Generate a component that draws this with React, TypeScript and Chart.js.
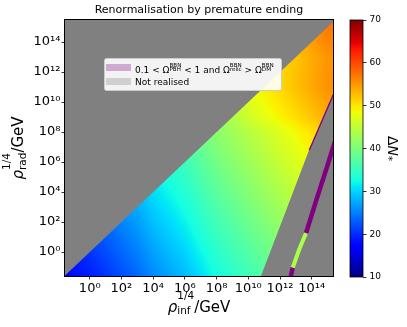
import React, { useEffect, useRef } from 'react';
import { Chart, registerables } from 'chart.js';

Chart.register(...registerables);

const FONT = 'DejaVu Sans';

// ---------- data ----------
const TITLE = 'Renormalisation by premature ending';
const X_LIMIT_EXP = [-1.56, 15.34]; // log10(rho_inf^{1/4}/GeV)
const Y_LIMIT_EXP = [-1.6, 15.47]; // log10(rho_rad^{1/4}/GeV)
const X_TICK_EXP = [0, 2, 4, 6, 8, 10, 12, 14];
const Y_TICK_EXP = [0, 2, 4, 6, 8, 10, 12, 14];
const CB_LIMITS = [10, 70];
const CB_TICKS = [10, 20, 30, 40, 50, 60, 70];

// grid of Delta N_* read at decade points (log10 GeV)
const infExp = [-2, -1, 0, 1, 2, 3, 4, 5, 6, 7, 8, 9, 10, 11, 12, 13, 14, 15];
const radExp = [15, 14, 13, 12, 11, 10, 9, 8, 7, 6, 5, 4, 3, 2, 1, 0, -1, -2];
const _ = null;
const deltaN = [
  [_, _, _, _, _, _, _, _, _, _, _, _, _, _, _, _, 55.5, 57.0],
  [_, _, _, _, _, _, _, _, _, _, _, _, _, _, _, 53.1, 54.6, 56.1],
  [_, _, _, _, _, _, _, _, _, _, _, _, _, _, 50.7, 52.2, 53.7, 55.2],
  [_, _, _, _, _, _, _, _, _, _, _, _, _, 49.3, 50.8, 52.3, 53.8, 55.3],
  [_, _, _, _, _, _, _, _, _, _, _, _, 47.9, 49.4, 50.9, 52.4, 53.9, 55.4],
  [_, _, _, _, _, _, _, _, _, _, _, 44.5, 47.0, 48.5, 50.0, 51.5, 53.0, 54.5],
  [_, _, _, _, _, _, _, _, _, _, 42.1, 43.6, 46.1, 47.6, 49.1, 50.6, 52.1, 53.6],
  [_, _, _, _, _, _, _, _, _, 39.2, 41.2, 42.7, 44.2, 45.7, 47.2, 48.7, 50.2, 51.7],
  [_, _, _, _, _, _, _, _, 36.3, 38.3, 40.3, 41.8, 43.3, 44.8, 46.3, 47.8, 49.3, _],
  [_, _, _, _, _, _, _, 33.9, 35.4, 37.4, 39.4, 40.9, 42.4, 43.9, 45.4, 46.9, 48.4, _],
  [_, _, _, _, _, _, 31.5, 33.0, 34.5, 36.5, 38.5, 40.0, 41.5, 43.0, 44.5, 46.0, _, _],
  [_, _, _, _, _, 28.6, 30.6, 32.1, 33.6, 35.6, 37.6, 39.1, 40.6, 42.1, 43.6, 45.1, _, _],
  [_, _, _, _, 26.2, 27.7, 29.7, 31.2, 32.7, 34.7, 36.7, 38.2, 39.7, 41.2, 42.7, 44.2, _, _],
  [_, _, _, 23.8, 25.3, 26.8, 28.8, 30.3, 31.8, 33.8, 35.8, 37.3, 38.8, 40.3, 41.8, _, _, _],
  [_, _, 21.4, 22.9, 24.4, 25.9, 27.9, 29.4, 30.9, 32.9, 34.9, 36.4, 37.9, 39.4, 40.9, _, _, _],
  [_, 19.5, 20.5, 22.0, 23.5, 25.0, 27.0, 28.5, 30.0, 32.0, 34.0, 35.5, 37.0, 38.5, 40.0, _, _, _],
  [17.1, 18.6, 19.6, 21.1, 22.6, 24.1, 26.1, 27.6, 29.1, 31.1, 33.1, 34.6, 36.1, 37.6, _, _, _, _],
  [16.2, 17.7, 18.7, 20.2, 21.7, 23.2, 25.2, 26.7, 28.2, 30.2, 32.2, 33.7, 35.2, 36.7, _, _, _, _],
];

// "Not realised" regions (log10 GeV)
const aboveDiagInfExp = [-5, 20, -5];
const aboveDiagRadExp = [-5, 20, 20];
const lateEndInfExp = [16, 10.29, 12.32, 13.83, 15.34, 16];
const lateEndRadExp = [-3, -3, 2.6, 6.8, 10.47, 12];

// 0.1 < Omega_PBH < 1 and Omega_relic > Omega_DM
const pbhInfExp = [13.64, 14.3, 15.0, 15.5];
const pbhRadExp = [1.27, 3.5, 5.8, 7.5];
const pbhTipInfExp = [12.6, 12.8];
const pbhTipRadExp = [-2.0, -1.05];
const pbhEdgeInfExp = [13.85, 15.36];
const pbhEdgeRadExp = [6.8, 10.5];
// realised sliver inside the band
const sliverInfExp = [12.8, 13.2, 13.64];
const sliverRadExp = [-1.05, 0.15, 1.27];
const SLIVER_DELTA_N = 43.4;

const PBH_COLOR = '#800080';
const NOT_REALISED_COLOR = '#808080';

// ---------- helpers ----------
const JET: Record<string, number[][]> = {
  r: [[0, 0], [0.35, 0], [0.66, 1], [0.89, 1], [1, 0.5]],
  g: [[0, 0], [0.125, 0], [0.375, 1], [0.64, 1], [0.91, 0], [1, 0]],
  b: [[0, 0.5], [0.11, 1], [0.34, 1], [0.65, 0], [1, 0]],
};
function seg(p: number[][], t: number) {
  for (let i = 1; i < p.length; i++) {
    if (t <= p[i][0]) {
      const [t0, v0] = p[i - 1];
      const [t1, v1] = p[i];
      return v0 + ((v1 - v0) * (t - t0)) / (t1 - t0);
    }
  }
  return p[p.length - 1][1];
}
function jetRGB(v: number) {
  const t = Math.min(1, Math.max(0, (v - CB_LIMITS[0]) / (CB_LIMITS[1] - CB_LIMITS[0])));
  return ['r', 'g', 'b'].map((k) => Math.round(255 * seg(JET[k], t)));
}
function jet(v: number) {
  const [r, g, b] = jetRGB(v);
  return `rgb(${r},${g},${b})`;
}
const SUP: Record<string, string> = { '0': '⁰', '1': '¹', '2': '²', '3': '³', '4': '⁴', '5': '⁵', '6': '⁶', '7': '⁷', '8': '⁸', '9': '⁹', '-': '⁻' };
const tenPow = (v: number) =>
  '10' + String(Math.round(Math.log10(v))).split('').map((c) => SUP[c]).join('');
const pts = (us: number[], vs: number[]) => us.map((u, k) => ({ x: 10 ** u, y: 10 ** vs[k] }));

// shade between the read grid values (like imshow with bilinear shading)
function shade(u: number, v: number): number | null {
  const fi = Math.min(infExp.length - 1, Math.max(0, u - infExp[0]));
  const fj = Math.min(radExp.length - 1, Math.max(0, radExp[0] - v));
  const i0 = Math.min(infExp.length - 2, Math.floor(fi));
  const j0 = Math.min(radExp.length - 2, Math.floor(fj));
  const di = fi - i0;
  const dj = fj - j0;
  let s = 0;
  let w = 0;
  const add = (j: number, i: number, wt: number) => {
    const val = deltaN[j][i];
    if (val == null || wt <= 0) return;
    s += val * wt;
    w += wt;
  };
  add(j0, i0, (1 - di) * (1 - dj));
  add(j0, i0 + 1, di * (1 - dj));
  add(j0 + 1, i0, (1 - di) * dj);
  add(j0 + 1, i0 + 1, di * dj);
  if (w > 0) return s / w;
  const ni = Math.round(fi);
  const nj = Math.round(fj);
  return deltaN[nj][ni];
}

type Piece =
  | { t: string; font: string }
  | { sup: string; sub: string; font: string; rise: number; drop: number };
function pieceW(ctx: CanvasRenderingContext2D, p: Piece) {
  ctx.font = p.font;
  if ('t' in p) return ctx.measureText(p.t).width;
  return Math.max(ctx.measureText(p.sup).width, ctx.measureText(p.sub).width);
}
function piecesW(ctx: CanvasRenderingContext2D, ps: Piece[]) {
  return ps.reduce((s, p) => s + pieceW(ctx, p), 0);
}
function drawPieces(ctx: CanvasRenderingContext2D, ps: Piece[], x: number, y: number) {
  let cx = x;
  ctx.textAlign = 'left';
  ctx.textBaseline = 'alphabetic';
  for (const p of ps) {
    const w = pieceW(ctx, p);
    ctx.font = p.font;
    if ('t' in p) ctx.fillText(p.t, cx, y);
    else {
      if (p.sup) ctx.fillText(p.sup, cx, y - p.rise);
      if (p.sub) ctx.fillText(p.sub, cx, y + p.drop);
    }
    cx += w;
  }
}

const F = (size: number, italic = false) => `${italic ? 'italic ' : ''}${size}px ${FONT}`;
const axisPieces = (sub: string): Piece[] => [
  { t: 'ρ', font: F(15, true) },
  { sup: '1/4', sub, font: F(10.5), rise: 13, drop: 2.5 },
  { t: '/GeV', font: F(15) },
];

// ---------- plugins ----------
const heatPlugin = {
  id: 'heat',
  beforeDatasetsDraw(chart: any) {
    const { ctx, chartArea: a, scales } = chart;
    const xs = scales.x;
    const ys = scales.y;
    const L = Math.round(a.left);
    const T = Math.round(a.top);
    const W = Math.round(a.right) - L;
    const H = Math.round(a.bottom) - T;
    const img = ctx.createImageData(W, H);
    const us: number[] = [];
    const vs: number[] = [];
    for (let i = 0; i < W; i++) us.push(Math.log10(xs.getValueForPixel(L + i + 0.5)));
    for (let j = 0; j < H; j++) vs.push(Math.log10(ys.getValueForPixel(T + j + 0.5)));
    for (let j = 0; j < H; j++) {
      for (let i = 0; i < W; i++) {
        const val = shade(us[i], vs[j]);
        const k = (j * W + i) * 4;
        if (val == null) {
          img.data[k] = 128; img.data[k + 1] = 128; img.data[k + 2] = 128; img.data[k + 3] = 255;
          continue;
        }
        const [r, g, b] = jetRGB(val);
        img.data[k] = r; img.data[k + 1] = g; img.data[k + 2] = b; img.data[k + 3] = 255;
      }
    }
    ctx.putImageData(img, L, T);
  },
};

const decorPlugin = {
  id: 'decor',
  afterDatasetsDraw(chart: any) {
    const { ctx, chartArea: a } = chart;
    ctx.save();
    // frame
    ctx.strokeStyle = '#000';
    ctx.lineWidth = 1;
    ctx.strokeRect(Math.round(a.left) - 0.5, Math.round(a.top) - 0.5, Math.round(a.right - a.left) + 1, Math.round(a.bottom - a.top) + 1);
    // legend
    ctx.fillStyle = 'rgba(255,255,255,0.9)';
    ctx.strokeStyle = '#cccccc';
    ctx.beginPath();
    (ctx as any).roundRect(104.5, 58.5, 177, 32, 2);
    ctx.fill();
    ctx.stroke();
    ctx.globalAlpha = 0.3;
    ctx.fillStyle = PBH_COLOR;
    ctx.fillRect(106, 64, 25, 7);
    ctx.fillStyle = NOT_REALISED_COLOR;
    ctx.fillRect(106, 78, 25, 7);
    ctx.globalAlpha = 1;
    ctx.fillStyle = '#000';
    const s = F(5.6);
    const m = F(9);
    drawPieces(ctx, [
      { t: '0.1 < Ω', font: m },
      { sup: 'BBN', sub: 'PBH', font: s, rise: 6.3, drop: -2 },
      { t: ' < 1 and Ω', font: m },
      { sup: 'BBN', sub: 'relic', font: s, rise: 6.3, drop: -2 },
      { t: ' > Ω', font: m },
      { sup: 'BBN', sub: 'DM', font: s, rise: 6.3, drop: -2 },
    ], 135, 73);
    drawPieces(ctx, [{ t: 'Not realised', font: m }], 135, 85);
    ctx.restore();
  },
  afterDraw(chart: any) {
    const { ctx, chartArea: a } = chart;
    ctx.save();
    ctx.fillStyle = '#000';
    const xp = axisPieces('inf');
    const xw = piecesW(ctx, xp);
    drawPieces(ctx, xp, (a.left + a.right) / 2 - xw / 2, 311.5);
    const yp = axisPieces('rad');
    const yw = piecesW(ctx, yp);
    ctx.translate(23, (a.top + a.bottom) / 2);
    ctx.rotate(-Math.PI / 2);
    drawPieces(ctx, yp, -yw / 2, 0);
    ctx.restore();
  },
};

const cbPlugin = {
  id: 'cbdecor',
  afterDraw(chart: any) {
    const { ctx, chartArea: a } = chart;
    ctx.save();
    ctx.strokeStyle = '#000';
    ctx.lineWidth = 0.8;
    ctx.strokeRect(a.left, a.top, a.right - a.left, a.bottom - a.top);
    ctx.fillStyle = '#000';
    const lp: Piece[] = [
      { t: 'Δ', font: F(14) },
      { t: 'N', font: F(14, true) },
      { sup: '', sub: '*', font: F(10), rise: 0, drop: 3 },
    ];
    const w = piecesW(ctx, lp);
    ctx.translate(48, (a.top + a.bottom) / 2);
    ctx.rotate(Math.PI / 2);
    drawPieces(ctx, lp, -w / 2, 0);
    ctx.restore();
  },
};

function logAxis(limits: number[], tickExp: number[], fit: (s: any) => void) {
  return {
    type: 'logarithmic' as const,
    min: 10 ** limits[0],
    max: 10 ** limits[1],
    afterBuildTicks: (s: any) => {
      s.ticks = tickExp.map((e) => ({ value: 10 ** e }));
    },
    afterFit: fit,
    ticks: {
      autoSkip: false,
      maxRotation: 0,
      minRotation: 0,
      color: '#000',
      font: { family: FONT, size: 13 },
      padding: 1,
      callback: (v: any) => tenPow(Number(v)),
    },
    grid: { drawOnChartArea: false, color: '#000', lineWidth: 0.8, tickLength: 3.5 },
    border: { display: false },
  };
}

export default function App() {
  const mainRef = useRef<HTMLCanvasElement>(null);
  const cbRef = useRef<HTMLCanvasElement>(null);

  useEffect(() => {
    const poly = (label: string, us: number[], vs: number[], color: string) => ({
      label,
      data: pts(us, vs),
      backgroundColor: color,
      borderColor: 'transparent',
      borderWidth: 0,
      pointRadius: 0,
      pointHoverRadius: 0,
      fill: 'shape',
      tension: 0,
      order: 2,
    });
    const band = (label: string, us: number[], vs: number[], color: string, width: number) => ({
      label,
      data: pts(us, vs),
      borderColor: color,
      backgroundColor: color,
      borderWidth: width,
      borderCapStyle: 'butt',
      pointRadius: 0,
      pointHoverRadius: 0,
      fill: false,
      tension: 0,
      order: 1,
    });

    const main = new Chart(mainRef.current as HTMLCanvasElement, {
      type: 'line',
      data: {
        datasets: [
          band('0.1 < Ω_PBH < 1 and Ω_relic > Ω_DM', pbhInfExp, pbhRadExp, PBH_COLOR, 4.5),
          band('PBH tip', pbhTipInfExp, pbhTipRadExp, PBH_COLOR, 4.5),
          band('PBH edge', pbhEdgeInfExp, pbhEdgeRadExp, PBH_COLOR, 1.3),
          band('realised sliver', sliverInfExp, sliverRadExp, jet(SLIVER_DELTA_N), 4),
          poly('Not realised', aboveDiagInfExp, aboveDiagRadExp, NOT_REALISED_COLOR),
          poly('Not realised (late end)', lateEndInfExp, lateEndRadExp, NOT_REALISED_COLOR),
        ] as any,
      },
      options: {
        responsive: false,
        animation: false,
        events: [],
        layout: { padding: { left: 0, right: 74, top: 0, bottom: 0 } },
        plugins: {
          legend: { display: false },
          tooltip: { enabled: false },
          title: {
            display: true,
            fullSize: false,
            text: TITLE,
            color: '#000',
            font: { family: FONT, size: 11, weight: 'normal' },
            padding: { top: 4, bottom: 2.8 },
          },
        },
        scales: {
          x: logAxis(X_LIMIT_EXP, X_TICK_EXP, (s: any) => { s.height = 51; }),
          y: logAxis(Y_LIMIT_EXP, Y_TICK_EXP, (s: any) => { s.width = 65; }),
        },
      } as any,
      plugins: [heatPlugin, decorPlugin],
    });

    const cb = new Chart(cbRef.current as HTMLCanvasElement, {
      type: 'bar',
      data: {
        labels: ['ΔN*'],
        datasets: [
          {
            data: [[CB_LIMITS[0], CB_LIMITS[1]]] as any,
            backgroundColor: (c: any) => {
              const area = c.chart.chartArea;
              if (!area) return '#888';
              const g = c.chart.ctx.createLinearGradient(0, area.bottom, 0, area.top);
              for (let i = 0; i <= 100; i++) {
                const v = CB_LIMITS[0] + ((CB_LIMITS[1] - CB_LIMITS[0]) * i) / 100;
                g.addColorStop(i / 100, jet(v));
              }
              return g;
            },
            borderWidth: 0,
            barPercentage: 1,
            categoryPercentage: 1,
          },
        ],
      },
      options: {
        responsive: false,
        animation: false,
        events: [],
        layout: { padding: { left: 10, top: 20, bottom: 50, right: 0 } },
        plugins: { legend: { display: false }, tooltip: { enabled: false } },
        scales: {
          x: { display: false },
          y: {
            position: 'right',
            min: CB_LIMITS[0],
            max: CB_LIMITS[1],
            afterBuildTicks: (s: any) => {
              s.ticks = CB_TICKS.map((v) => ({ value: v }));
            },
            afterFit: (s: any) => { s.width = 44; },
            ticks: { color: '#000', font: { family: FONT, size: 9 }, padding: 3 },
            grid: { drawOnChartArea: false, color: '#000', lineWidth: 0.8, tickLength: 3.5 },
            border: { display: false },
          },
        },
      } as any,
      plugins: [cbPlugin],
    });

    return () => {
      main.destroy();
      cb.destroy();
    };
  }, []);

  return (
    <div style={{ position: 'absolute', left: 0, top: 0, width: 407, height: 327, background: '#fff' }}>
      <canvas ref={mainRef} width={407} height={327} style={{ position: 'absolute', left: 0, top: 0 }} />
      <canvas ref={cbRef} width={67} height={327} style={{ position: 'absolute', left: 340, top: 0 }} />
    </div>
  );
}
